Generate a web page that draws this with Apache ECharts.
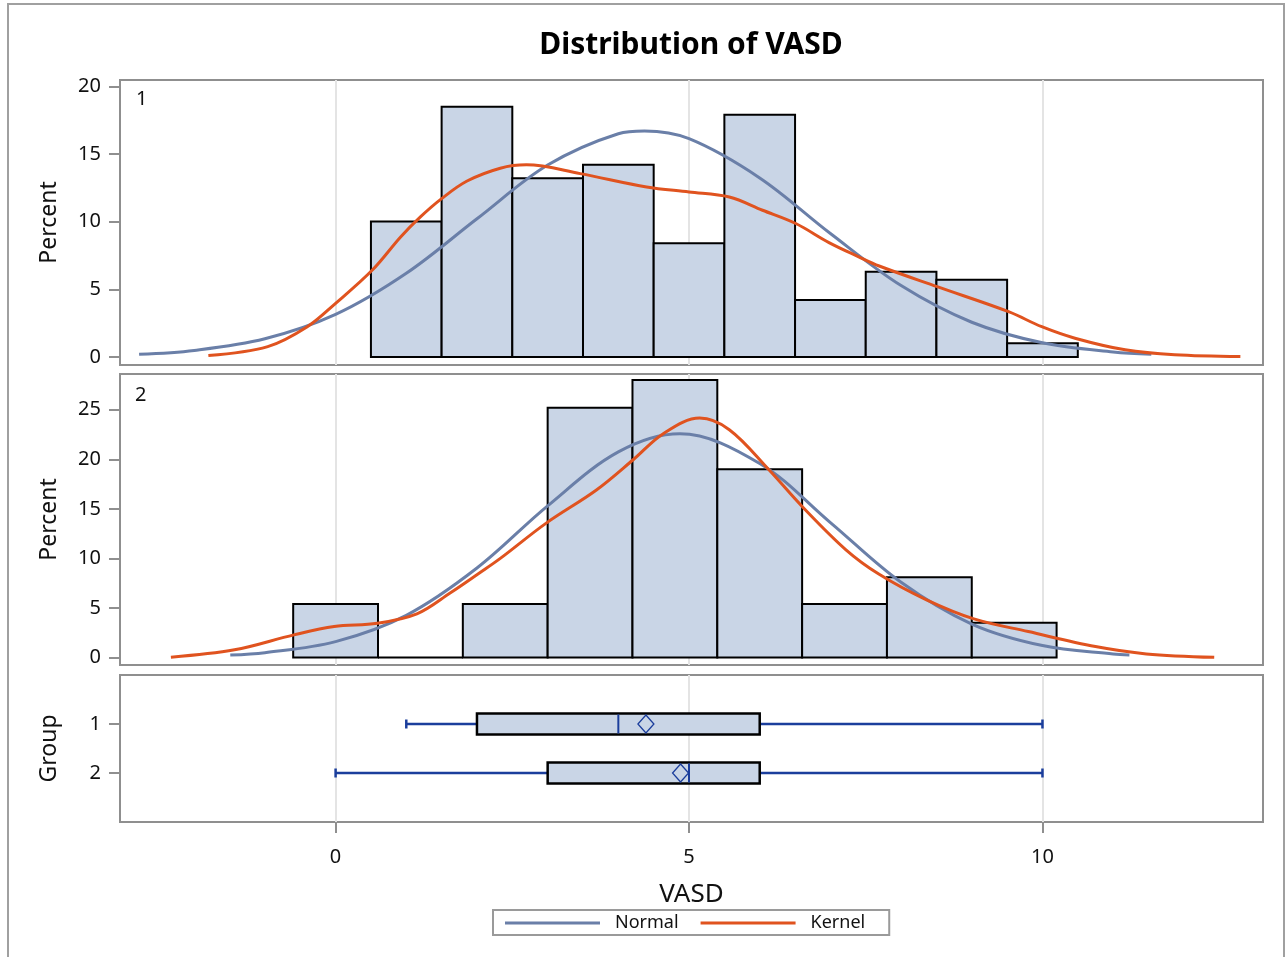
<!DOCTYPE html>
<html><head><meta charset="utf-8">
<script src="https://cdn.jsdelivr.net/npm/echarts@6/dist/echarts.min.js"></script>
<style>html,body{margin:0;padding:0;background:#fff}#c{width:1285px;height:957px}</style>
</head><body><div id="c"></div><script>
// ---------- data ----------
const chartTitle = 'Distribution of VASD';
const xName = 'VASD';
const yName = 'Percent';
const groupAxisName = 'Group';
const xTicks = [0, 5, 10];
const pctTicks1 = [0, 5, 10, 15, 20];
const pctTicks2 = [0, 5, 10, 15, 20, 25];
const groups = ['1', '2'];

// group 1 histogram
const g1BinMid = [1, 2, 3, 4, 5, 6, 7, 8, 9, 10];
const g1BinWidth = 1;
const g1Pct = [10.0, 18.5, 13.2, 14.2, 8.4, 17.9, 4.2, 6.3, 5.7, 1.0];
// group 2 histogram
const g2BinMid = [0, 1.2, 2.4, 3.6, 4.8, 6.0, 7.2, 8.4, 9.6];
const g2BinWidth = 1.2;
const g2Pct = [5.4, 0, 5.4, 25.2, 28.0, 19.0, 5.4, 8.1, 3.5];

// density curves: [VASD, percent]
const g1Normal = [[-2.78,0.19],[-2,0.48],[-1,1.34],[0,3.14],[1,6.18],[2,10.21],[3,14.18],[4,16.5],[4.37,16.7],[5,16.13],[6,13.23],[7,9.12],[8,5.27],[9,2.56],[10,1.04],[11,0.36],[11.54,0.19]];
const g1Kernel = [[-1.80,0.1],[-0.96,0.76],[-0.40,2.23],[0,3.96],[0.52,6.42],[0.92,8.87],[1.20,10.35],[1.50,11.7],[1.86,13.0],[2.33,13.95],[2.70,14.2],[3.46,13.55],[4.40,12.56],[5.0,12.19],[5.57,11.82],[6.04,10.84],[6.51,9.86],[6.98,8.45],[7.40,7.4],[7.69,6.72],[8.51,5.19],[9.52,3.34],[9.99,2.23],[10.46,1.38],[11.17,0.52],[11.87,0.15],[12.8,0.02]];
const g2Normal = [[-1.49,0.25],[-1,0.49],[0,1.61],[1,4.26],[2,9.03],[3,15.3],[4,20.74],[4.87,22.57],[6,19.58],[7,13.62],[8,7.59],[9,3.38],[10,1.21],[11,0.35],[11.23,0.25]];
const g2Kernel = [[-2.33,0.04],[-1.43,0.78],[-0.59,2.29],[-0.02,3.13],[0.59,3.45],[1.15,4.4],[1.62,6.5],[2.05,8.6],[2.33,10.0],[2.98,13.56],[3.69,16.9],[4.21,19.95],[4.64,22.6],[5.15,24.15],[5.57,22.98],[6.13,18.94],[6.60,15.24],[7.22,10.87],[7.69,8.4],[8.36,5.82],[9.03,3.9],[9.80,2.62],[10.75,1.11],[11.47,0.37],[12.43,0.02]];

// box plot statistics per group
const boxMin = [1, 0];
const boxQ1 = [2, 3];
const boxMedian = [4, 5];
const boxQ3 = [6, 6];
const boxMax = [10, 10];
const boxMean = [4.39, 4.88];

// ---------- styles ----------
const FONT = 'Noto Sans';
const frameColor = '#8f8f8f';
const barFill = '#c9d5e6';
const normalColor = '#6a7fa8';
const kernelColor = '#e0531f';
const boxBlue = '#1b3e9c';
const XMIN = -3.05, XMAX = 13.12;

function histItem(width) {
  return function (params, api) {
    const mid = api.value(0), h = api.value(1);
    const p0 = api.coord([mid - width / 2, h]);
    const p1 = api.coord([mid + width / 2, 0]);
    return {
      type: 'rect',
      shape: { x: p0[0], y: p0[1], width: p1[0] - p0[0], height: p1[1] - p0[1] },
      style: { fill: barFill, stroke: '#000', lineWidth: 2 }
    };
  };
}

function boxItem(params, api) {
  const y = api.value(0);
  const mn = api.coord([api.value(1), y]);
  const q1 = api.coord([api.value(2), y]);
  const md = api.coord([api.value(3), y]);
  const q3 = api.coord([api.value(4), y]);
  const mx = api.coord([api.value(5), y]);
  const me = api.coord([api.value(6), y]);
  const cy = mn[1], hh = 10.5, cap = 4.5;
  const ls = { stroke: boxBlue, lineWidth: 2.5 };
  return { type: 'group', children: [
    { type: 'line', shape: { x1: mn[0], y1: cy, x2: q1[0], y2: cy }, style: ls },
    { type: 'line', shape: { x1: q3[0], y1: cy, x2: mx[0], y2: cy }, style: ls },
    { type: 'line', shape: { x1: mn[0], y1: cy - cap, x2: mn[0], y2: cy + cap }, style: ls },
    { type: 'line', shape: { x1: mx[0], y1: cy - cap, x2: mx[0], y2: cy + cap }, style: ls },
    { type: 'rect', shape: { x: q1[0], y: cy - hh, width: q3[0] - q1[0], height: 2 * hh }, style: { fill: barFill, stroke: '#000', lineWidth: 2.5 } },
    { type: 'line', shape: { x1: md[0], y1: cy - hh + 1, x2: md[0], y2: cy + hh - 1 }, style: { stroke: boxBlue, lineWidth: 2 } },
    { type: 'polygon', shape: { points: [[me[0], cy - 9], [me[0] + 8, cy], [me[0], cy + 9], [me[0] - 8, cy]] }, style: { fill: 'none', stroke: boxBlue, lineWidth: 1.3 } }
  ] };
}

const grids = [
  { left: 120, right: 22, top: 80, height: 285 },
  { left: 120, right: 22, top: 374, height: 291 },
  { left: 120, right: 22, top: 675, height: 147 }
].map(g => Object.assign({ show: true, borderColor: frameColor, borderWidth: 2, backgroundColor: 'transparent' }, g));

function xAxisFor(i, showLabels) {
  return {
    type: 'value', gridIndex: i, min: XMIN, max: XMAX, splitNumber: 3, position: 'bottom',
    axisLine: { show: false, onZero: false },
    axisTick: { show: showLabels, customValues: xTicks, length: 11, lineStyle: { color: frameColor, width: 2 } },
    axisLabel: { show: showLabels, customValues: xTicks, margin: 25, fontFamily: FONT, fontSize: 20, color: '#111' },
    splitLine: { show: true, lineStyle: { color: '#e4e4e4', width: 2 } },
    name: showLabels ? xName : '', nameLocation: 'middle', nameGap: 60,
    nameTextStyle: { fontFamily: FONT, fontSize: 26, color: '#111' }
  };
}
function yPct(i, min, max, ticks) {
  return {
    type: 'value', gridIndex: i, min: min, max: max, position: 'left',
    axisLine: { show: false, onZero: false },
    axisTick: { show: true, customValues: ticks, length: 11, lineStyle: { color: frameColor, width: 2 } },
    axisLabel: { customValues: ticks, margin: 19, fontFamily: FONT, fontSize: 20, color: '#111' },
    splitLine: { show: false },
    name: yName, nameLocation: 'middle', nameGap: 59, nameRotate: 90,
    nameTextStyle: { fontFamily: FONT, fontSize: 23, color: '#111' }
  };
}

const chart = echarts.init(document.getElementById('c'), null, { renderer: 'canvas' });
chart.setOption({
  backgroundColor: '#fff',
  animation: false,
  title: {
    text: chartTitle, left: 691, top: 30, textAlign: 'center', padding: 0,
    textStyle: { fontFamily: FONT, fontSize: 30, fontWeight: 'bold', color: '#000' }
  },
  legend: {
    data: [{ name: 'Normal', icon: 'rect' }, { name: 'Kernel', icon: 'rect' }],
    left: 493, top: 910, itemWidth: 95, itemHeight: 3, itemGap: 22,
    padding: [4, 24, 3, 12], borderColor: '#9a9a9a', borderWidth: 2,
    textStyle: { fontFamily: FONT, fontSize: 18, color: '#111', padding: [0, 0, 0, 10] }
  },
  graphic: [
    { type: 'rect', shape: { x: 8, y: 4, width: 1276, height: 980 }, style: { fill: 'none', stroke: '#a0a0a0', lineWidth: 2 }, silent: true },
    { type: 'text', left: 136, top: 89, style: { text: groups[0], fontFamily: FONT, fontSize: 20, fill: '#111' } },
    { type: 'text', left: 135, top: 385, style: { text: groups[1], fontFamily: FONT, fontSize: 20, fill: '#111' } }
  ],
  grid: grids,
  xAxis: [xAxisFor(0, false), xAxisFor(1, false), xAxisFor(2, true)],
  yAxis: [
    yPct(0, -0.6, 20.47, pctTicks1),
    yPct(1, -0.75, 28.6, pctTicks2),
    {
      type: 'value', gridIndex: 2, min: 0, max: 3, inverse: true, position: 'left',
      axisLine: { show: false, onZero: false },
      axisTick: { show: true, customValues: [1, 2], length: 11, lineStyle: { color: frameColor, width: 2 } },
      axisLabel: { customValues: [1, 2], margin: 19, fontFamily: FONT, fontSize: 20, color: '#111',
        formatter: v => groups[Math.round(v) - 1] },
      splitLine: { show: false },
      name: groupAxisName, nameLocation: 'middle', nameGap: 59, nameRotate: 90,
      nameTextStyle: { fontFamily: FONT, fontSize: 23, color: '#111' }
    }
  ],
  series: [
    { type: 'custom', name: 'hist1', xAxisIndex: 0, yAxisIndex: 0, renderItem: histItem(g1BinWidth),
      data: g1BinMid.map((m, i) => [m, g1Pct[i]]), z: 1 },
    { type: 'line', name: 'Normal', xAxisIndex: 0, yAxisIndex: 0, data: g1Normal, smooth: 0.35,
      showSymbol: false, lineStyle: { color: normalColor, width: 3 }, itemStyle: { color: normalColor }, z: 3 },
    { type: 'line', name: 'Kernel', xAxisIndex: 0, yAxisIndex: 0, data: g1Kernel, smooth: 0.35,
      showSymbol: false, lineStyle: { color: kernelColor, width: 3 }, itemStyle: { color: kernelColor }, z: 4 },
    { type: 'custom', name: 'hist2', xAxisIndex: 1, yAxisIndex: 1, renderItem: histItem(g2BinWidth),
      data: g2BinMid.map((m, i) => [m, g2Pct[i]]), z: 1 },
    { type: 'line', name: 'Normal', xAxisIndex: 1, yAxisIndex: 1, data: g2Normal, smooth: 0.35,
      showSymbol: false, lineStyle: { color: normalColor, width: 3 }, itemStyle: { color: normalColor }, z: 3 },
    { type: 'line', name: 'Kernel', xAxisIndex: 1, yAxisIndex: 1, data: g2Kernel, smooth: 0.35,
      showSymbol: false, lineStyle: { color: kernelColor, width: 3 }, itemStyle: { color: kernelColor }, z: 4 },
    { type: 'custom', name: 'box', xAxisIndex: 2, yAxisIndex: 2, renderItem: boxItem,
      data: groups.map((g, i) => [i + 1, boxMin[i], boxQ1[i], boxMedian[i], boxQ3[i], boxMax[i], boxMean[i]]), z: 2 }
  ]
});
</script></body></html>
